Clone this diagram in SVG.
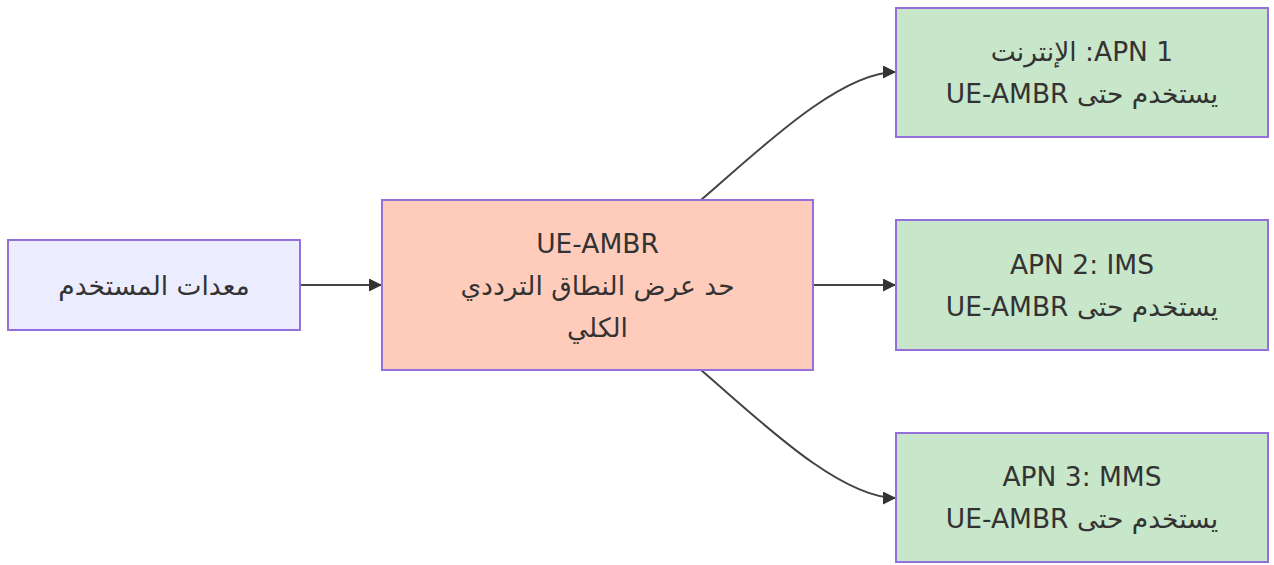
<svg xmlns="http://www.w3.org/2000/svg" width="1274" height="565" viewBox="0 0 1274 565">
<style>
.node rect{stroke:#9370DB;stroke-width:2}
.a rect{fill:#ECECFF}
.b rect{fill:#FFCCBC}
.c rect{fill:#C8E6C9}
text{font-family:"DejaVu Sans","Noto Sans",sans-serif;font-size:26.5px;fill:#333;text-anchor:middle;dominant-baseline:central}
.rtl{direction:rtl}
.edge{fill:none;stroke:#444;stroke-width:2}
</style>
<defs>
<marker id="arr" markerUnits="userSpaceOnUse" viewBox="0 0 10 10" refX="10" refY="5" markerWidth="13" markerHeight="13" orient="auto">
<path d="M0,0 L10,5 L0,10 z" fill="#333"/>
</marker>
</defs>
<g id="connectors">
<path class="edge" d="M300,285 L382,285" marker-end="url(#arr)"/>
<path class="edge" d="M813,285 L896,285" marker-end="url(#arr)"/>
<path class="edge" d="M701,200 C755,154 838,72 896,72" marker-end="url(#arr)"/>
<path class="edge" d="M701,370 C755,416 838,498 896,498" marker-end="url(#arr)"/>
</g>
<g id="ue" class="node a">
<rect x="8" y="240" width="292" height="90"/>
<text x="154" y="285" class="rtl">معدات المستخدم</text>
</g>
<g id="ambr" class="node b">
<rect x="382" y="200" width="431" height="170"/>
<text x="597.5" y="243">UE-AMBR</text>
<text x="597.5" y="285" class="rtl">حد عرض النطاق الترددي</text>
<text x="597.5" y="327" class="rtl">الكلي</text>
</g>
<g id="apn1" class="node c">
<rect x="896" y="8" width="372" height="129"/>
<text x="1082" y="51.5" class="rtl">APN 1: الإنترنت</text>
<text x="1082" y="93.5" class="rtl">يستخدم حتى UE-AMBR</text>
</g>
<g id="apn2" class="node c">
<rect x="896" y="220" width="372" height="130"/>
<text x="1082" y="264">APN 2: IMS</text>
<text x="1082" y="306" class="rtl">يستخدم حتى UE-AMBR</text>
</g>
<g id="apn3" class="node c">
<rect x="896" y="433" width="372" height="129"/>
<text x="1082" y="476.5">APN 3: MMS</text>
<text x="1082" y="518.5" class="rtl">يستخدم حتى UE-AMBR</text>
</g>
</svg>
